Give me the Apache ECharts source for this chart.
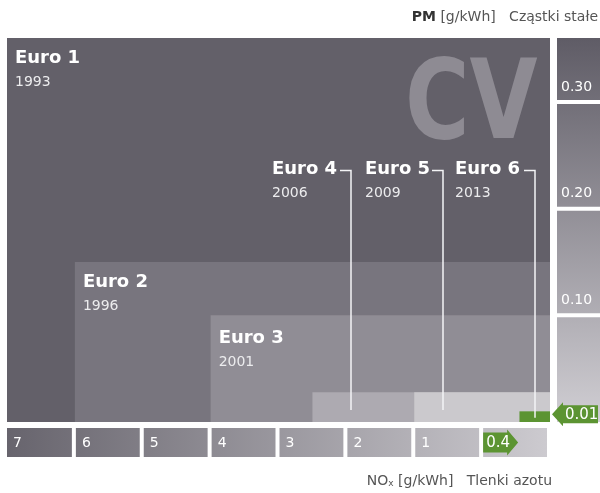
<!DOCTYPE html>
<html>
<head>
<meta charset="utf-8">
<script src="https://cdn.jsdelivr.net/npm/echarts@6/dist/echarts.min.js"></script>
<style>
  html, body { margin: 0; padding: 0; background: #fff; }
  #chart { width: 600px; height: 493px; }
</style>
</head>
<body>
<div id="chart"></div>
<script>
// Normy Euro dla pojazdów ciężarowych (CV)
const stageNames = ['Euro 1', 'Euro 2', 'Euro 3', 'Euro 4', 'Euro 5', 'Euro 6'];
const stageYears = ['1993', '1996', '2001', '2006', '2009', '2013'];
const noxLimits = [8, 7, 5, 3.5, 2, 0.45];          // NOx [g/kWh]
const pmLimits = [0.36, 0.15, 0.10, 0.028, 0.028, 0.01]; // PM [g/kWh]

// oś NOx (dolne pola)
const noxBoxFrom = [8, 7, 6, 5, 4, 3, 2, 1];
const noxBoxLabels = ['7', '6', '5', '4', '3', '2', '1', '0.4'];
// oś PM (prawe pola)
const pmBoxEdges = [0.36, 0.30, 0.20, 0.10, 0];
const pmBoxLabels = ['0.30', '0.20', '0.10', ''];
const pmMarker = '0.01';

const FONT = 'DejaVu Sans';
const stageColors = ['#636069', '#78757e', '#908d95', '#adaab1', '#cbc9cd', '#5c9432'];
const green = '#5c9432';
// pozycje opisów Euro 4-6 (x etykiety, x linii)
const calloutLabelX = [272, 365, 455];
const calloutLineX = [351, 443, 535];

const chart = echarts.init(document.getElementById('chart'));

function renderStage(params, api) {
  const i = params.dataIndex;
  const tl = api.coord([noxLimits[i], pmLimits[i]]);
  const br = api.coord([0, 0]);
  const children = [{
    type: 'rect',
    shape: { x: tl[0], y: tl[1], width: br[0] - tl[0], height: br[1] - tl[1] },
    style: { fill: stageColors[i] }
  }];
  let lx, ly;
  if (i < 3) {
    lx = tl[0] + 8;
    ly = tl[1] + (i === 2 ? 14 : 11);
  } else {
    const k = i - 3;
    lx = calloutLabelX[k];
    ly = 160;
    const endY = tl[1] + (br[1] - tl[1]) * 0.6;
    children.push({
      type: 'polyline',
      shape: { points: [[calloutLineX[k] - 11, 170.5], [calloutLineX[k], 170.5], [calloutLineX[k], endY]] },
      style: { stroke: '#f4f4f6', lineWidth: 1.5, fill: null },
      z2: 20
    });
  }
  children.push({
    type: 'text',
    style: { text: stageNames[i], x: lx, y: ly, fill: '#ffffff', font: 'bold 18px ' + FONT, textVerticalAlign: 'top' },
    z2: 20
  });
  children.push({
    type: 'text',
    style: { text: stageYears[i], x: lx, y: ly + 26, fill: '#ececee', font: '14px ' + FONT, textVerticalAlign: 'top' },
    z2: 20
  });
  return { type: 'group', children: children };
}

function renderNoxBox(params, api) {
  const i = params.dataIndex;
  const a = api.coord([noxBoxFrom[i], 0]);
  const b = api.coord([noxBoxFrom[i] - 1, 0]);
  const x = i === 0 ? a[0] : a[0] + 1;
  const w = b[0] - x - 3;
  const y = a[1] + 6;
  const h = 29;
  const children = [{
    type: 'rect',
    shape: { x: x, y: y, width: w, height: h },
    style: {
      fill: {
        type: 'linear', x: 7, y: 0, x2: 550, y2: 0, global: true,
        colorStops: [{ offset: 0, color: '#67646d' }, { offset: 1, color: '#cdcbd0' }]
      }
    }
  }];
  if (i === noxBoxLabels.length - 1) {
    const cy = y + h / 2;
    children.push({
      type: 'polygon',
      shape: { points: [[x, cy - 10], [x + 24, cy - 10], [x + 24, cy - 13], [x + 35, cy], [x + 24, cy + 13], [x + 24, cy + 10], [x, cy + 10]] },
      style: { fill: green }
    });
    children.push({
      type: 'text',
      style: { text: noxBoxLabels[i], x: x + 3, y: cy + 1, fill: '#ffffff', font: '15px ' + FONT, textVerticalAlign: 'middle' }
    });
  } else {
    children.push({
      type: 'text',
      style: { text: noxBoxLabels[i], x: x + 6, y: y + h / 2 + 1, fill: '#ffffff', font: '14px ' + FONT, textVerticalAlign: 'middle' }
    });
  }
  return { type: 'group', children: children };
}

function renderPmBox(params, api) {
  const i = params.dataIndex;
  const right = api.coord([0, 0])[0];
  const top = api.coord([0, pmBoxEdges[i]])[1];
  const bottom = api.coord([0, pmBoxEdges[i + 1]])[1];
  const x = right + 7;
  const y = i === 0 ? top : top + 2;
  const h = (i === pmBoxEdges.length - 2 ? bottom : bottom - 2) - y;
  const children = [{
    type: 'rect',
    shape: { x: x, y: y, width: 600 - x, height: h },
    style: {
      fill: {
        type: 'linear', x: 0, y: 38, x2: 0, y2: 422, global: true,
        colorStops: [{ offset: 0, color: '#5f5c66' }, { offset: 1, color: '#d0ced3' }]
      }
    }
  }];
  if (pmBoxLabels[i]) {
    children.push({
      type: 'text',
      style: { text: pmBoxLabels[i], x: x + 4, y: bottom - 15, fill: '#ffffff', font: '14px ' + FONT, textVerticalAlign: 'middle' }
    });
  }
  if (i === pmBoxEdges.length - 2) {
    // strzałka 0.01 na wysokości limitu Euro 6
    const cy = api.coord([0, pmLimits[5]])[1] + 3;
    const tx = right + 2;
    children.push({
      type: 'polygon',
      shape: { points: [[tx, cy], [tx + 11, cy - 12], [tx + 11, cy - 9], [598, cy - 9], [598, cy + 9], [tx + 11, cy + 9], [tx + 11, cy + 12]] },
      style: { fill: green }
    });
    children.push({
      type: 'text',
      style: { text: pmMarker, x: tx + 13, y: cy + 1, fill: '#ffffff', font: '15px ' + FONT, textVerticalAlign: 'middle' }
    });
  }
  return { type: 'group', children: children };
}

chart.setOption({
  animation: false,
  backgroundColor: '#ffffff',
  grid: { left: 7, right: 50, top: 38, bottom: 71 },
  xAxis: { type: 'value', min: 0, max: 8, inverse: true, show: false },
  yAxis: { type: 'value', min: 0, max: 0.36, show: false },
  graphic: [
    {
      type: 'text', x: 405, y: 54, scaleX: 0.8, z: 5,
      style: { text: 'CV', font: 'bold 110px ' + FONT, fill: '#8e8b93', textVerticalAlign: 'top' }
    },
    {
      type: 'text', x: 598, y: 24, z: 5,
      style: {
        text: '{b|PM} [g/kWh]   Cząstki stałe', font: '14px ' + FONT, fill: '#555555',
        textAlign: 'right', textVerticalAlign: 'bottom',
        rich: { b: { font: 'bold 14px ' + FONT, fill: '#333333' } }
      }
    },
    {
      type: 'text', x: 552, y: 488, z: 5,
      style: {
        text: 'NO{s|x} [g/kWh]   Tlenki azotu', font: '14px ' + FONT, fill: '#555555',
        textAlign: 'right', textVerticalAlign: 'bottom',
        rich: { s: { font: '9px ' + FONT, fill: '#555555', verticalAlign: 'bottom' } }
      }
    }
  ],
  series: [
    {
      type: 'custom', name: 'stages', renderItem: renderStage,
      data: noxLimits.map((v, i) => [v, pmLimits[i]]), encode: { x: 0, y: 1 }, z: 2
    },
    {
      type: 'custom', name: 'noxAxis', renderItem: renderNoxBox,
      data: noxBoxFrom.map(v => [v, 0]), encode: { x: 0, y: 1 }, z: 2
    },
    {
      type: 'custom', name: 'pmAxis', renderItem: renderPmBox,
      data: pmBoxLabels.map((l, i) => [0, pmBoxEdges[i]]), encode: { x: 0, y: 1 }, z: 2
    }
  ]
});
</script>
</body>
</html>
